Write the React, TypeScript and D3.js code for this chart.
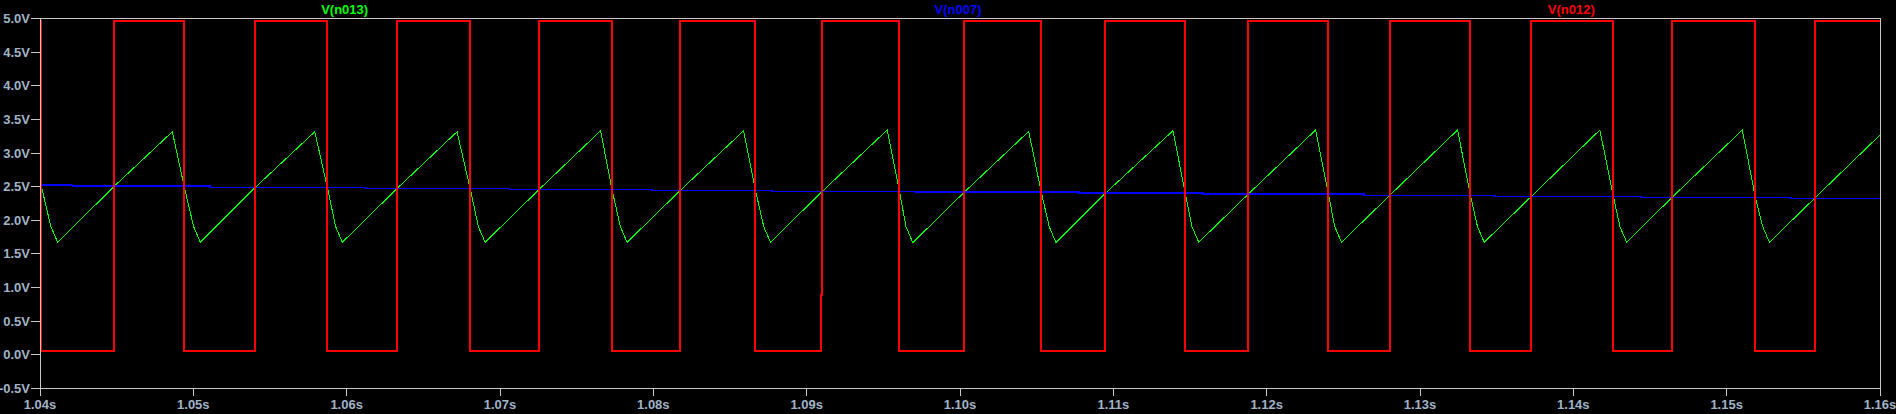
import React from 'react';
import * as d3 from 'd3';

const WIDTH = 1896;
const HEIGHT = 414;

// axes
const xTicks = [1.04, 1.05, 1.06, 1.07, 1.08, 1.09, 1.1, 1.11, 1.12, 1.13, 1.14, 1.15, 1.16];
const xTickLabels = ['1.04s', '1.05s', '1.06s', '1.07s', '1.08s', '1.09s', '1.10s', '1.11s', '1.12s', '1.13s', '1.14s', '1.15s', '1.16s'];
const yTicks = [-0.5, 0, 0.5, 1.0, 1.5, 2.0, 2.5, 3.0, 3.5, 4.0, 4.5, 5.0];
const yTickLabels = ['-0.5V', '0.0V', '0.5V', '1.0V', '1.5V', '2.0V', '2.5V', '3.0V', '3.5V', '4.0V', '4.5V', '5.0V'];

const traceNames = ['V(n013)', 'V(n007)', 'V(n012)'];
const traceColors = ['#00ff00', '#0000ff', '#ff0000'];

// V(n012) - red square wave
const redHigh = 4.97;
const redLow = 0.055;
const redFallTimes = [1.04007, 1.0494, 1.05874, 1.06805, 1.0773, 1.08666, 1.09605, 1.1053, 1.11469, 1.12403, 1.13329, 1.14261, 1.15187];
const redRiseTimes = [1.04484, 1.05405, 1.0633, 1.07256, 1.08176, 1.09102, 1.10027, 1.10948, 1.11879, 1.12803, 1.13727, 1.14644, 1.15573];
const redGlitchTimes = [1.09095];
const redGlitchValues = [0.89];

// V(n007) - blue slowly decreasing level
const blueStepTimes = [1.04, 1.04213, 1.05108, 1.06127, 1.07063, 1.07991, 1.08772, 1.09705, 1.10775, 1.11585, 1.12634, 1.13491, 1.14443, 1.1542];
const blueStepValues = [2.525, 2.506, 2.491, 2.476, 2.461, 2.446, 2.431, 2.417, 2.402, 2.387, 2.372, 2.357, 2.342, 2.327];

// V(n013) - green sawtooth
const greenStartValue = 2.62;
const greenEndValue = 3.27;
const greenPeakTimes = [1.04863, 1.05792, 1.0672, 1.07656, 1.08589, 1.09525, 1.10448, 1.11389, 1.12319, 1.13245, 1.14173, 1.15102];
const greenPeakValues = [3.318, 3.318, 3.318, 3.333, 3.333, 3.344, 3.323, 3.333, 3.344, 3.344, 3.344, 3.344];
const greenMinTimes = [1.04115, 1.05046, 1.05972, 1.06903, 1.07829, 1.08764, 1.09692, 1.10626, 1.11557, 1.12488, 1.13419, 1.14348, 1.15279];
const greenMinValues = [1.673, 1.673, 1.673, 1.673, 1.673, 1.673, 1.667, 1.667, 1.673, 1.673, 1.673, 1.673, 1.673];
const greenKneeTimes = [1.04071, 1.05002, 1.05928, 1.06859, 1.07785, 1.0872, 1.09648, 1.10582, 1.11513, 1.12444, 1.13375, 1.14304, 1.15235];
const greenKneeValues = [1.905, 1.905, 1.905, 1.905, 1.905, 1.905, 1.905, 1.905, 1.905, 1.905, 1.905, 1.905, 1.905];

const M = { left: 40, right: 1880, top: 18.7, bottom: 388.3 };

function blueAt(t: number): number {
  let v = blueStepValues[0];
  for (let i = 0; i < blueStepTimes.length; i++) {
    if (blueStepTimes[i] <= t) v = blueStepValues[i];
  }
  return v;
}

export default function App() {
  const x = d3.scaleLinear().domain([1.04, 1.16]).range([M.left, M.right]);
  const y = d3.scaleLinear().domain([-0.5, 5.0]).range([M.bottom, M.top]);
  const line = d3.line<[number, number]>().x((d) => x(d[0])).y((d) => y(d[1]));

  // red
  const red: [number, number][] = [[1.04, redHigh]];
  for (let i = 0; i < redFallTimes.length; i++) {
    red.push([redFallTimes[i], redHigh], [redFallTimes[i], redLow]);
    const r = redRiseTimes[i];
    const gi = redGlitchTimes.findIndex((g) => g < r && r - g < 0.0003);
    if (gi >= 0) {
      const g = redGlitchTimes[gi];
      red.push([g, redLow], [g, redGlitchValues[gi]], [r, redGlitchValues[gi]], [r, redHigh]);
    } else {
      red.push([r, redLow], [r, redHigh]);
    }
  }
  red.push([1.16, redHigh]);

  // blue
  const blue: [number, number][] = [];
  for (let i = 0; i < blueStepTimes.length; i++) {
    if (i > 0) blue.push([blueStepTimes[i], blueStepValues[i - 1]]);
    blue.push([blueStepTimes[i], blueStepValues[i]]);
  }
  blue.push([1.16, blueStepValues[blueStepValues.length - 1]]);

  // green
  const green: [number, number][] = [[1.04, greenStartValue]];
  for (let i = 0; i < greenMinTimes.length; i++) {
    green.push([redFallTimes[i], blueAt(redFallTimes[i])]);
    green.push([greenKneeTimes[i], greenKneeValues[i]]);
    green.push([greenMinTimes[i], greenMinValues[i]]);
    green.push([redRiseTimes[i], blueAt(redRiseTimes[i])]);
    if (i < greenPeakTimes.length) green.push([greenPeakTimes[i], greenPeakValues[i]]);
  }
  green.push([1.16, greenEndValue]);

  const labelColor = '#a0b4c8';
  const frameColor = '#c8c8c8';
  const font = '"Liberation Sans", Arial, sans-serif';
  const legendX = [1 / 6, 1 / 2, 5 / 6].map((f) => M.left + (M.right - M.left) * f - 2);

  return (
    <svg
      width={WIDTH}
      height={HEIGHT}
      style={{ position: 'absolute', left: 0, top: 0, background: '#000', display: 'block' }}
    >
      <rect x={0} y={0} width={WIDTH} height={HEIGHT} fill="#000" />
      <defs>
        <clipPath id="plotclip">
          <rect x={M.left} y={M.top} width={M.right - M.left} height={M.bottom - M.top} />
        </clipPath>
      </defs>
      {/* legend */}
      {traceNames.map((n, i) => (
        <text key={n} x={legendX[i]} y={14} textAnchor="middle" fill={traceColors[i]}
          fontFamily={font} fontWeight="bold" fontSize={13}>{n}</text>
      ))}
      {/* traces */}
      <g clipPath="url(#plotclip)" fill="none">
        <path d={line(green) || ''} stroke={traceColors[0]} strokeWidth={1} shapeRendering="crispEdges" />
        <path d={line(blue) || ''} stroke={traceColors[1]} strokeWidth={1.6} shapeRendering="crispEdges" />
        <path d={line(red) || ''} stroke={traceColors[2]} strokeWidth={2} shapeRendering="crispEdges" />
      </g>
      {/* frame */}
      <rect x={M.left} y={M.top} width={M.right - M.left} height={M.bottom - M.top}
        fill="none" stroke={frameColor} strokeWidth={1} shapeRendering="crispEdges" />
      {/* y ticks */}
      {yTicks.map((v, i) => (
        <g key={'y' + i}>
          <line x1={M.left - 9} x2={M.left} y1={y(v)} y2={y(v)} stroke={frameColor} strokeWidth={1} shapeRendering="crispEdges" />
          <text x={M.left - 10} y={y(v)} dy="0.35em" textAnchor="end" fill={labelColor}
            fontFamily={font} fontWeight="bold" fontSize={13}>{yTickLabels[i]}</text>
        </g>
      ))}
      {/* x ticks */}
      {xTicks.map((t, i) => (
        <g key={'x' + i}>
          <line x1={x(t)} x2={x(t)} y1={M.bottom} y2={M.bottom + 8} stroke={frameColor} strokeWidth={1} shapeRendering="crispEdges" />
          <text x={x(t)} y={408.5} textAnchor="middle" fill={labelColor}
            fontFamily={font} fontWeight="bold" fontSize={13}>{xTickLabels[i]}</text>
        </g>
      ))}
    </svg>
  );
}
